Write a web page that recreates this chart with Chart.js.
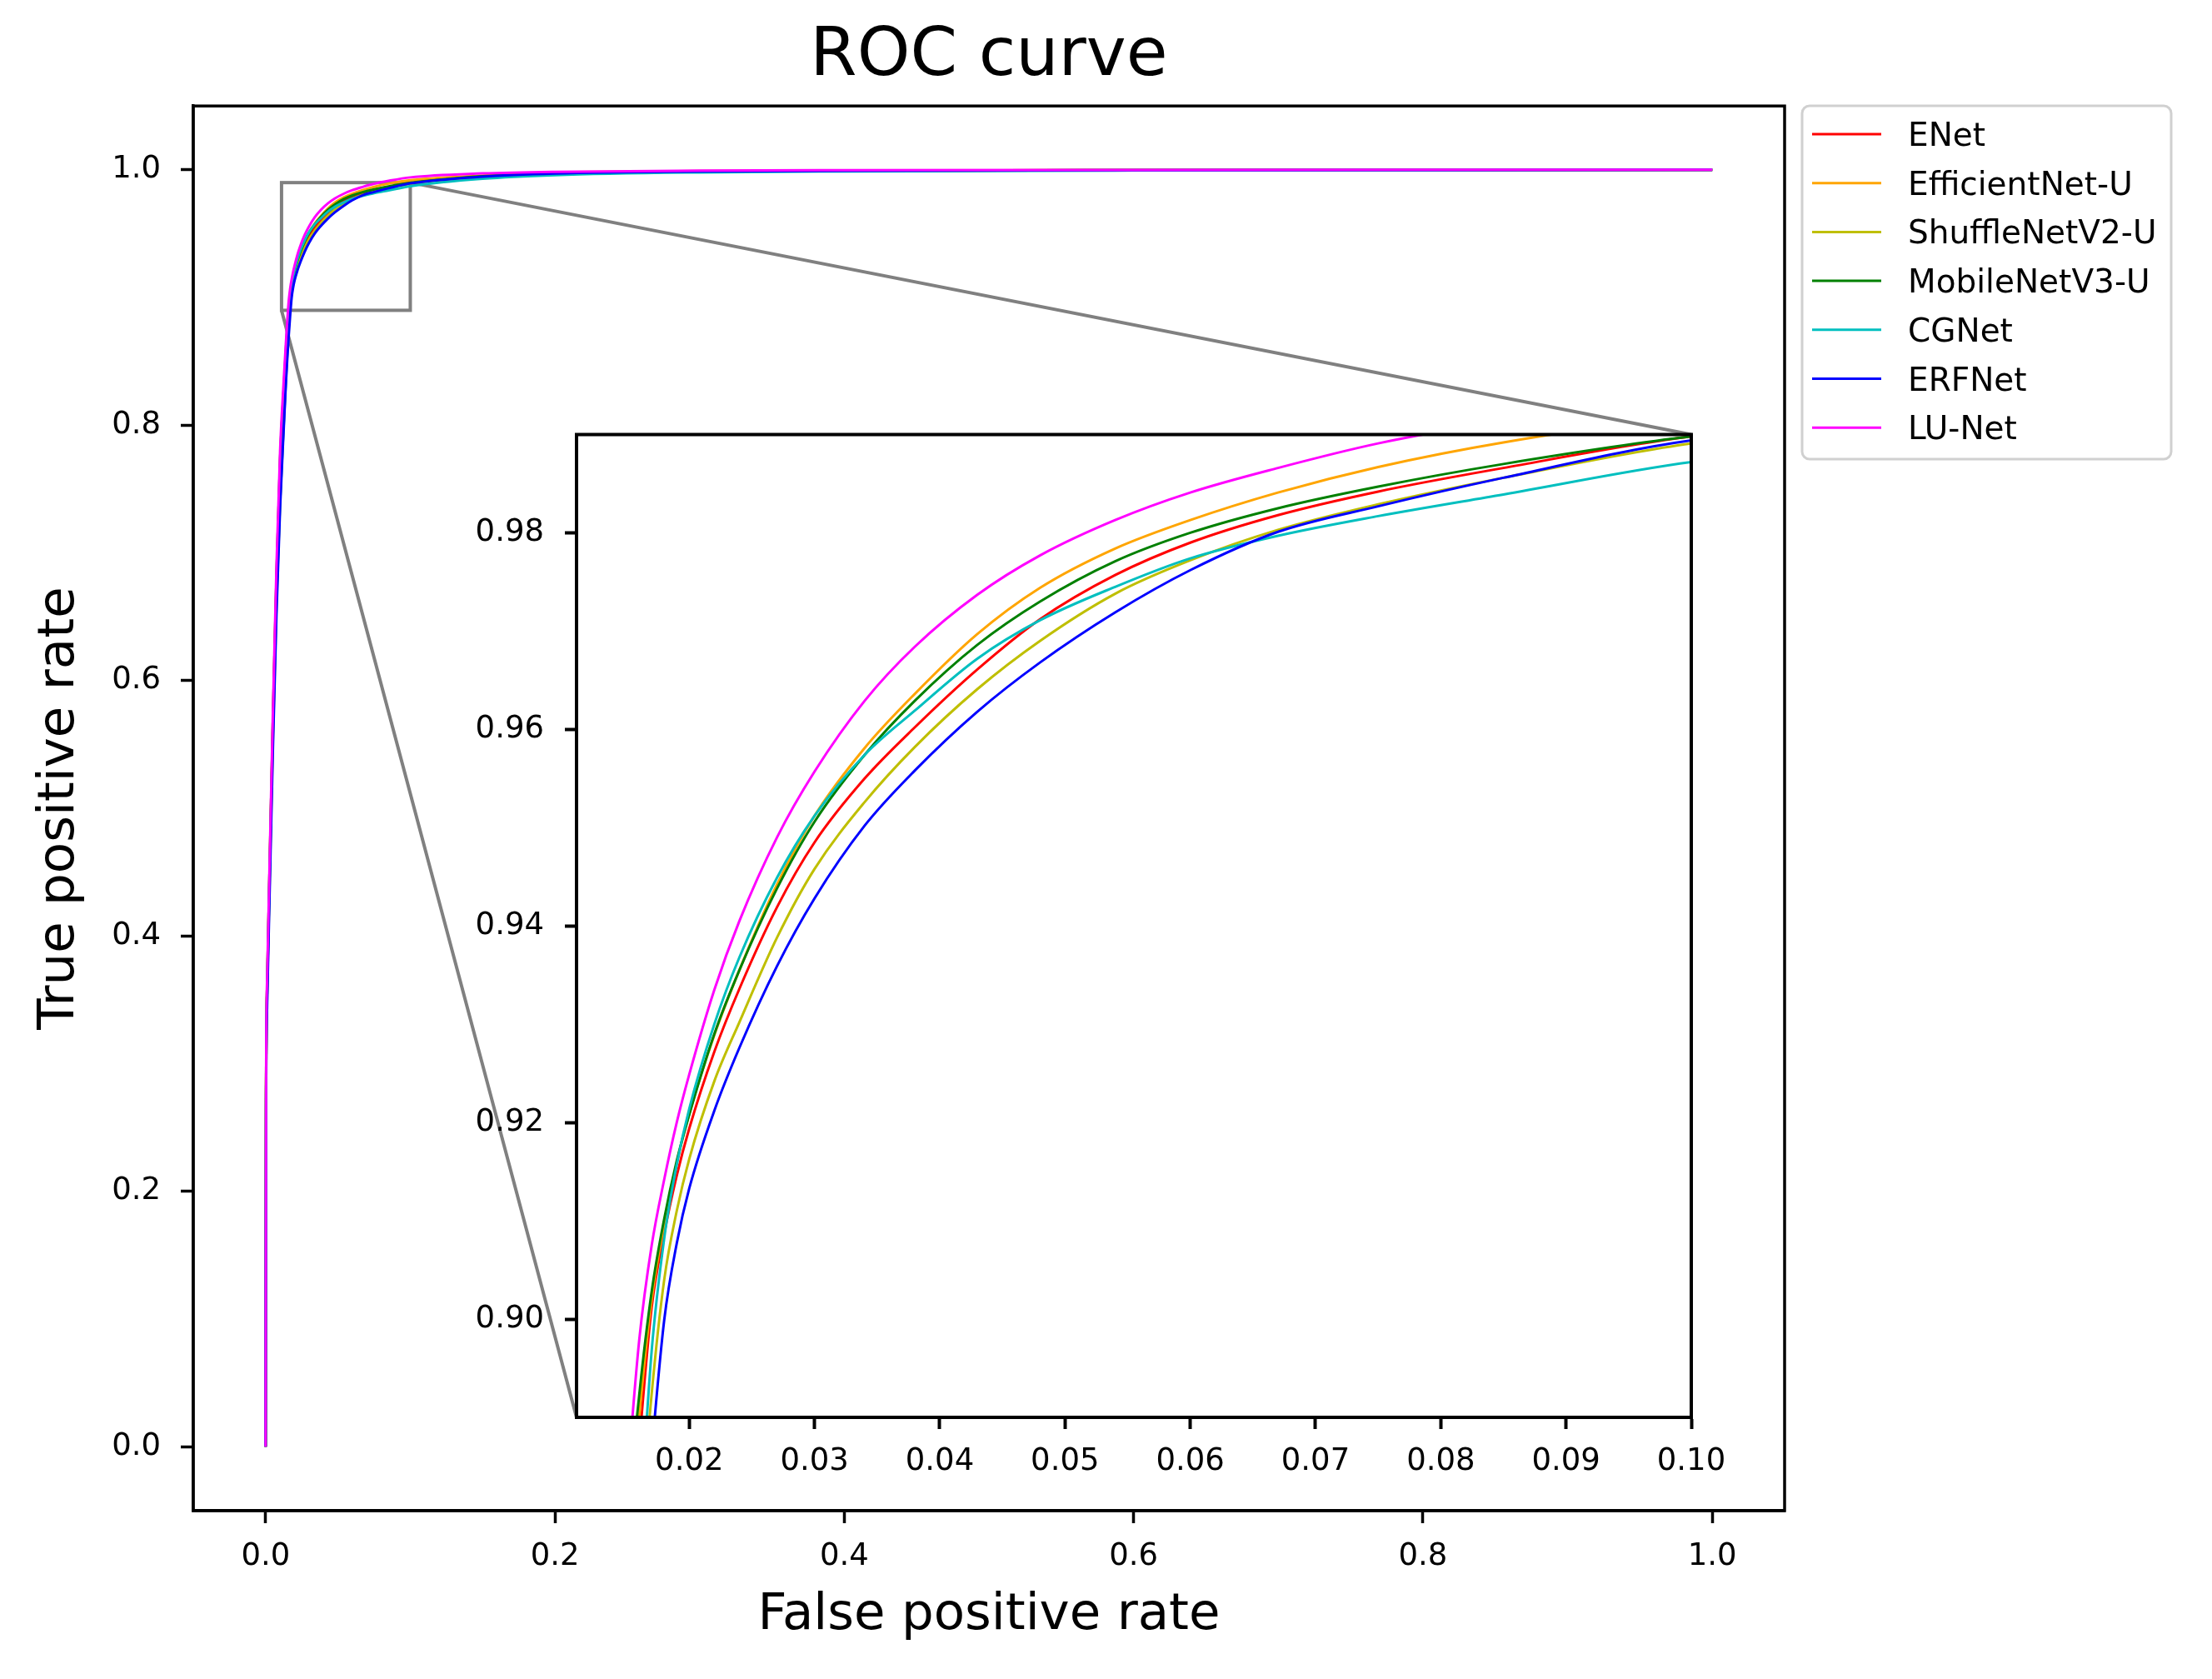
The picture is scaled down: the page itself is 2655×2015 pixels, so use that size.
<!DOCTYPE html>
<html>
<head>
<meta charset="utf-8">
<title>ROC curve</title>
<script src="https://cdn.jsdelivr.net/npm/chart.js@4.4.1/dist/chart.umd.min.js"></script>
<style>
  html, body { margin: 0; padding: 0; background: #fff; }
  #wrap { position: relative; width: 2655px; height: 2015px; }
  canvas { position: absolute; }
</style>
</head>
<body>
<div id="wrap">
  <canvas id="mainChart" width="2655" height="2015"></canvas>
  <canvas id="insetChart" width="1700" height="1330"></canvas>
</div>
<script>
// false positive rate (shared x values)
const fpr = [0, 0.0003, 0.001, 0.003, 0.005, 0.0075, 0.01, 0.0125, 0.014, 0.015,
  0.016, 0.017, 0.018, 0.019, 0.02, 0.022, 0.024, 0.027, 0.03, 0.034,
  0.038, 0.043, 0.048, 0.054, 0.06, 0.067, 0.075, 0.085, 0.1, 0.15,
  0.2, 0.3, 0.4, 0.6, 0.8, 1.0];

// true positive rate per model
const tprENet = [0, 0.27, 0.355, 0.46, 0.563, 0.676, 0.765, 0.82, 0.851, 0.87,
  0.8871, 0.9012, 0.9087, 0.9146, 0.9194, 0.9272, 0.9336, 0.9419, 0.9485, 0.955,
  0.9602, 0.9661, 0.9712, 0.9757, 0.979, 0.9818, 0.9842, 0.9866, 0.9898, 0.995,
  0.9973, 0.9988, 0.9993, 0.9997, 0.9999, 1.0];
const tprEfficientNetU = [0, 0.275, 0.36, 0.465, 0.568, 0.682, 0.772, 0.827, 0.856, 0.874,
  0.89, 0.902, 0.9097, 0.9159, 0.9209, 0.9289, 0.9355, 0.9442, 0.9512, 0.9581,
  0.9636, 0.9697, 0.9744, 0.9784, 0.9813, 0.9841, 0.9867, 0.9892, 0.9919, 0.9955,
  0.9978, 0.999, 0.9994, 0.9998, 0.9999, 1.0];
const tprShuffleNetV2U = [0, 0.265, 0.35, 0.453, 0.553, 0.66, 0.7395, 0.802, 0.8366, 0.8576,
  0.8766, 0.8924, 0.904, 0.911, 0.9163, 0.9242, 0.9302, 0.9388, 0.9458, 0.9526,
  0.9582, 0.9641, 0.969, 0.9738, 0.9772, 0.9803, 0.9829, 0.9856, 0.9891, 0.9946,
  0.997, 0.9987, 0.9992, 0.9997, 0.9999, 1.0];
const tprMobileNetV3U = [0, 0.275, 0.36, 0.465, 0.568, 0.682, 0.773, 0.828, 0.859, 0.8785,
  0.8922, 0.9028, 0.9102, 0.9161, 0.9208, 0.929, 0.9355, 0.9438, 0.9506, 0.9574,
  0.9629, 0.9686, 0.973, 0.9771, 0.98, 0.9825, 0.9847, 0.987, 0.9898, 0.995,
  0.9973, 0.9988, 0.9993, 0.9997, 0.9999, 1.0];
const tprCGNet = [0, 0.27, 0.355, 0.458, 0.558, 0.665, 0.74, 0.80, 0.8346, 0.8566,
  0.8776, 0.8968, 0.9082, 0.9157, 0.9214, 0.93, 0.9368, 0.9449, 0.9512, 0.9574,
  0.9619, 0.9672, 0.9711, 0.9745, 0.9774, 0.9797, 0.9817, 0.9839, 0.9872, 0.993,
  0.9958, 0.998, 0.9988, 0.9995, 0.9998, 1.0];
const tprERFNet = [0, 0.26, 0.343, 0.445, 0.545, 0.652, 0.735, 0.797, 0.8324, 0.8524,
  0.8704, 0.8864, 0.8999, 0.9077, 0.9133, 0.9212, 0.9276, 0.9359, 0.9428, 0.9502,
  0.9558, 0.9618, 0.9668, 0.9719, 0.9762, 0.9801, 0.9827, 0.9856, 0.9894, 0.9947,
  0.9971, 0.9987, 0.9992, 0.9997, 0.9999, 1.0];
const tprLUNet = [0, 0.28, 0.365, 0.47, 0.575, 0.69, 0.78, 0.835, 0.8645, 0.8825,
  0.8978, 0.9075, 0.9142, 0.92, 0.9249, 0.9335, 0.9405, 0.949, 0.9557, 0.9629,
  0.9684, 0.9737, 0.9777, 0.9813, 0.9841, 0.9866, 0.9891, 0.9914, 0.9941, 0.9972,
  0.9985, 0.9994, 0.9997, 0.9999, 1.0, 1.0];

const modelNames = ['ENet', 'EfficientNet-U', 'ShuffleNetV2-U', 'MobileNetV3-U', 'CGNet', 'ERFNet', 'LU-Net'];
const modelColors = ['#ff0000', '#ffa500', '#bfbf00', '#008000', '#00bfbf', '#0000ff', '#ff00ff'];
const tprSeries = [tprENet, tprEfficientNetU, tprShuffleNetV2U, tprMobileNetV3U, tprCGNet, tprERFNet, tprLUNet];

// tick labels
const mainTicks = [0, 0.2, 0.4, 0.6, 0.8, 1.0];
const insetXTicks = [0.02, 0.03, 0.04, 0.05, 0.06, 0.07, 0.08, 0.09, 0.10];
const insetYTicks = [0.90, 0.92, 0.94, 0.96, 0.98];

// zoomed region shown in the inset
const zoomX = [0.011, 0.1];
const zoomY = [0.89, 0.99];

const insetPos = { left: 450, top: 470 };

Chart.defaults.font.family = '"DejaVu Sans", sans-serif';
Chart.defaults.color = '#000';

function makeDatasets() {
  return modelNames.map((name, i) => ({
    label: name,
    data: fpr.map((x, j) => ({ x: x, y: tprSeries[i][j] })),
    borderColor: modelColors[i],
    backgroundColor: modelColors[i],
    borderWidth: 3,
    pointRadius: 0,
    fill: false,
    cubicInterpolationMode: 'monotone',
    order: modelNames.length - 1 - i
  }));
}

function tickAxis(values, digits, tickLen, pad, lineW) {
  return {
    type: 'linear',
    afterBuildTicks: (s) => { s.ticks = values.map(v => ({ value: v })); },
    ticks: {
      font: { size: 37 },
      padding: pad,
      autoSkip: false,
      maxRotation: 0,
      callback: (v) => Number(v).toFixed(digits)
    },
    grid: { drawOnChartArea: false, drawTicks: true, tickLength: tickLen, tickWidth: lineW, tickColor: '#000', color: '#000' },
    border: { display: true, color: '#000', width: lineW }
  };
}

// white plot area + full box around it
const framePlugin = {
  id: 'frame',
  beforeDraw(chart) {
    const a = chart.chartArea, ctx = chart.ctx;
    ctx.save();
    ctx.fillStyle = '#fff';
    ctx.fillRect(a.left, a.top, a.right - a.left, a.bottom - a.top);
    ctx.restore();
  },
  afterDraw(chart, args, opts) {
    const a = chart.chartArea, ctx = chart.ctx;
    ctx.save();
    ctx.strokeStyle = '#000';
    ctx.lineWidth = opts.width || 4;
    ctx.strokeRect(a.left, a.top, a.right - a.left, a.bottom - a.top);
    ctx.restore();
  }
};

// inset chart first, the main chart needs its position
const insetCanvas = document.getElementById('insetChart');
insetCanvas.style.left = insetPos.left + 'px';
insetCanvas.style.top = insetPos.top + 'px';

const insetX = tickAxis(insetXTicks, 2, 14, 17, 4);
insetX.min = zoomX[0]; insetX.max = zoomX[1];
insetX.afterFit = (s) => { s.height = 99; };
const insetY = tickAxis(insetYTicks, 2, 14, 25, 4);
insetY.min = zoomY[0]; insetY.max = zoomY[1];
insetY.afterFit = (s) => { s.width = 242; };

const insetChart = new Chart(insetCanvas.getContext('2d'), {
  type: 'line',
  data: { datasets: makeDatasets() },
  options: {
    responsive: false,
    animation: false,
    devicePixelRatio: 1,
    layout: { padding: { left: 0, top: 51.5, right: 120, bottom: 0 } },
    scales: { x: insetX, y: insetY },
    plugins: { legend: { display: false }, tooltip: { enabled: false }, frame: { width: 4 } }
  },
  plugins: [framePlugin]
});

// zoom box, connector lines and legend on the main chart
const insetMarks = {
  id: 'insetMarks',
  beforeDatasetsDraw(chart) {
    const ctx = chart.ctx, xs = chart.scales.x, ys = chart.scales.y;
    const x0 = xs.getPixelForValue(zoomX[0]), x1 = xs.getPixelForValue(zoomX[1]);
    const y0 = ys.getPixelForValue(zoomY[0]), y1 = ys.getPixelForValue(zoomY[1]);
    const ia = insetChart.chartArea;
    ctx.save();
    ctx.strokeStyle = '#808080';
    ctx.lineWidth = 4;
    ctx.strokeRect(x0, y1, x1 - x0, y0 - y1);
    ctx.beginPath();
    ctx.moveTo(x1, y1);
    ctx.lineTo(insetPos.left + ia.right, insetPos.top + ia.top);
    ctx.moveTo(x0, y0);
    ctx.lineTo(insetPos.left + ia.left, insetPos.top + ia.bottom);
    ctx.stroke();
    ctx.restore();
  },
  afterDraw(chart) {
    const ctx = chart.ctx;
    const bx = 2163, by = 127, bw = 443, bh = 424, r = 9;
    ctx.save();
    ctx.beginPath();
    ctx.moveTo(bx + r, by);
    ctx.arcTo(bx + bw, by, bx + bw, by + bh, r);
    ctx.arcTo(bx + bw, by + bh, bx, by + bh, r);
    ctx.arcTo(bx, by + bh, bx, by, r);
    ctx.arcTo(bx, by, bx + bw, by, r);
    ctx.closePath();
    ctx.fillStyle = 'rgba(255,255,255,0.8)';
    ctx.fill();
    ctx.strokeStyle = '#d0d0d0';
    ctx.lineWidth = 3;
    ctx.stroke();
    ctx.font = '39px "DejaVu Sans"';
    ctx.textBaseline = 'alphabetic';
    ctx.textAlign = 'left';
    chart.data.datasets.forEach((ds, i) => {
      const y = 161 + i * 58.7;
      ctx.strokeStyle = ds.borderColor;
      ctx.lineWidth = 3;
      ctx.beginPath();
      ctx.moveTo(2175, y);
      ctx.lineTo(2258, y);
      ctx.stroke();
      ctx.fillStyle = '#000';
      ctx.fillText(ds.label, 2290, y + 14);
    });
    ctx.restore();
  }
};

const mainX = tickAxis(mainTicks, 1, 15, 18, 3.5);
mainX.min = -0.05; mainX.max = 1.05;
mainX.afterFit = (s) => { s.height = 202; };
mainX.title = { display: true, text: 'False positive rate', font: { size: 61 }, padding: { top: 0, bottom: 39 } };
const mainY = tickAxis(mainTicks, 1, 15, 24, 3.5);
mainY.min = -0.05; mainY.max = 1.05;
mainY.afterFit = (s) => { s.width = 232; };
mainY.title = { display: true, text: 'True positive rate', font: { size: 61 }, padding: { top: 36, bottom: 0 } };

new Chart(document.getElementById('mainChart').getContext('2d'), {
  type: 'line',
  data: { datasets: makeDatasets() },
  options: {
    responsive: false,
    animation: false,
    devicePixelRatio: 1,
    layout: { padding: { left: 0, top: 0, right: 513, bottom: 0 } },
    scales: { x: mainX, y: mainY },
    plugins: {
      legend: { display: false },
      tooltip: { enabled: false },
      title: {
        display: true,
        text: 'ROC curve',
        fullSize: false,
        font: { size: 81, weight: 'normal' },
        padding: { top: 20, bottom: 10 }
      },
      frame: { width: 3.5 }
    }
  },
  plugins: [framePlugin, insetMarks]
});
</script>
</body>
</html>
